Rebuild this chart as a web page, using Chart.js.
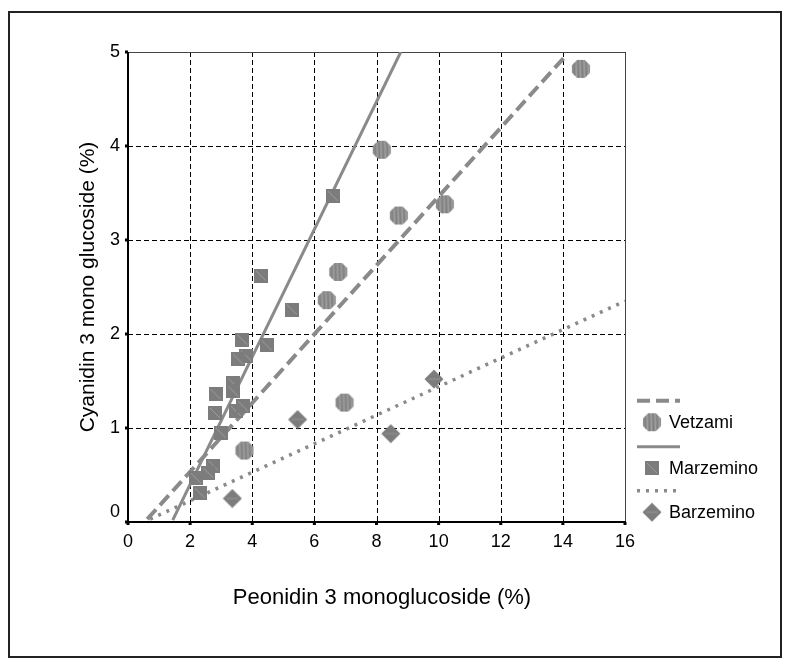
<!DOCTYPE html>
<html lang="en">
<head>
    <meta charset="UTF-8">
    <title>Cyanidin vs Peonidin</title>
    <style>
        body {
            margin: 0;
            background-color: #ffffff;
        }
        .chart-box {
            width: 789px;
            height: 665px;
        }
    </style>
    <script src="https://cdn.jsdelivr.net/npm/chart.js"></script>
</head>
<body>
    <div class="chart-box">
        <canvas id="scatterChart" width="789" height="665"></canvas>
    </div>
    <script>
        // tick labels
        const xTicks = [0, 2, 4, 6, 8, 10, 12, 14, 16];
        const yTicks = [0, 1, 2, 3, 4, 5];

        // measured points
        const vetzamiX = [14.58, 8.17, 8.72, 10.2, 6.77, 6.40, 6.97, 3.75];
        const vetzamiY = [4.82, 3.96, 3.26, 3.38, 2.66, 2.36, 1.27, 0.76];

        const marzeminoX = [6.59, 4.28, 5.27, 3.68, 4.46, 3.80, 3.55, 3.39, 3.39, 2.82, 2.80, 3.47, 3.71, 2.98, 2.75, 2.59, 2.19, 2.32];
        const marzeminoY = [3.47, 2.62, 2.26, 1.94, 1.88, 1.77, 1.73, 1.475, 1.39, 1.36, 1.16, 1.18, 1.23, 0.95, 0.60, 0.52, 0.465, 0.305];

        const barzeminoX = [3.36, 5.46, 9.85, 8.46];
        const barzeminoY = [0.25, 1.09, 1.52, 0.94];

        // fitted lines (end points)
        const vetzamiFitX = [0.62, 14.12];
        const vetzamiFitY = [0.03, 4.97];
        const marzeminoFitX = [1.44, 8.78];
        const marzeminoFitY = [0.02, 5.0];
        const barzeminoFitX = [0.71, 16];
        const barzeminoFitY = [0.03, 2.35];

        const seriesNames = ['Vetzami', 'Marzemino', 'Barzemino'];

        const lineGray = '#8a8a8a';
        const fitStyles = [
            { width: 4, dash: [13, 6] },
            { width: 3, dash: [] },
            { width: 3.5, dash: [3, 6] }
        ];

        function pairUp(xs, ys) {
            return xs.map((x, i) => ({ x: x, y: ys[i] }));
        }

        // marker images
        function octagonMarker() {
            const c = document.createElement('canvas');
            c.width = 20; c.height = 20;
            const g = c.getContext('2d');
            const r = 9.8, cx = 10, cy = 10;
            g.beginPath();
            for (let i = 0; i < 8; i++) {
                const a = Math.PI / 8 + i * Math.PI / 4;
                const px = cx + r * Math.cos(a), py = cy + r * Math.sin(a);
                if (i === 0) g.moveTo(px, py); else g.lineTo(px, py);
            }
            g.closePath();
            g.fillStyle = '#8f8f8f';
            g.fill();
            g.save();
            g.clip();
            for (let x = 3; x < 18; x += 2) {
                g.strokeStyle = (x % 4 === 1) ? '#a4a4a4' : '#7a7a7a';
                g.lineWidth = 0.8;
                g.beginPath();
                g.moveTo(x, 1);
                g.lineTo(x + 0.6, 19);
                g.stroke();
            }
            g.restore();
            return c;
        }

        function squareMarker() {
            const c = document.createElement('canvas');
            c.width = 14; c.height = 14;
            const g = c.getContext('2d');
            g.fillStyle = '#7c7c7c';
            g.fillRect(0, 0, 14, 14);
            g.strokeStyle = '#a8a8a8';
            g.lineWidth = 0.8;
            g.beginPath();
            g.moveTo(2, 2);
            g.lineTo(12, 12);
            g.stroke();
            return c;
        }

        function diamondMarker() {
            const c = document.createElement('canvas');
            c.width = 20; c.height = 20;
            const g = c.getContext('2d');
            g.beginPath();
            g.moveTo(10, 0.5);
            g.lineTo(19.5, 10);
            g.lineTo(10, 19.5);
            g.lineTo(0.5, 10);
            g.closePath();
            g.fillStyle = '#7c7c7c';
            g.fill();
            g.strokeStyle = '#a0a0a0';
            g.lineWidth = 0.8;
            g.beginPath();
            g.moveTo(4, 10);
            g.lineTo(16, 10);
            g.stroke();
            return c;
        }

        const markers = [octagonMarker(), squareMarker(), diamondMarker()];

        const frameParts = {
            id: 'frameParts',
            beforeDatasetsDraw(chart) {
                const ctx = chart.ctx;
                const xs = chart.scales.x, ys = chart.scales.y;
                const a = chart.chartArea;
                ctx.save();
                ctx.strokeStyle = '#000';
                ctx.lineWidth = 1;
                ctx.setLineDash([5, 3]);
                xTicks.forEach(v => {
                    if (v === 0) return;
                    const px = Math.round(xs.getPixelForValue(v)) + 0.5;
                    ctx.beginPath();
                    ctx.moveTo(px, a.top);
                    ctx.lineTo(px, a.bottom);
                    ctx.stroke();
                });
                yTicks.forEach(v => {
                    if (v === 0) return;
                    const py = Math.round(ys.getPixelForValue(v)) + 0.5;
                    ctx.beginPath();
                    ctx.moveTo(a.left, py);
                    ctx.lineTo(a.right, py);
                    ctx.stroke();
                });
                ctx.setLineDash([]);
                // top and right edges
                ctx.strokeStyle = '#444';
                ctx.beginPath();
                ctx.moveTo(a.left, a.top + 0.5);
                ctx.lineTo(a.right + 0.5, a.top + 0.5);
                ctx.lineTo(a.right + 0.5, a.bottom);
                ctx.stroke();
                // axes
                ctx.strokeStyle = '#000';
                ctx.lineWidth = 2;
                ctx.beginPath();
                ctx.moveTo(a.left, a.top);
                ctx.lineTo(a.left, a.bottom);
                ctx.lineTo(a.right + 1, a.bottom);
                ctx.stroke();
                // tick squares
                ctx.fillStyle = '#000';
                xTicks.forEach(v => {
                    const px = xs.getPixelForValue(v);
                    ctx.fillRect(px - 1.5, a.bottom, 3, 3);
                });
                yTicks.forEach(v => {
                    const py = ys.getPixelForValue(v);
                    ctx.fillRect(a.left - 3, py - 1.5, 3, 3);
                });
                ctx.restore();
            },
            afterDraw(chart) {
                const ctx = chart.ctx;
                const xs = chart.scales.x, ys = chart.scales.y;
                const a = chart.chartArea;
                ctx.save();
                ctx.fillStyle = '#000';
                ctx.font = '18px "Liberation Sans", Arial, sans-serif';
                ctx.textAlign = 'center';
                ctx.textBaseline = 'middle';
                xTicks.forEach(v => {
                    ctx.fillText(String(v), xs.getPixelForValue(v), a.bottom + 20);
                });
                ctx.textAlign = 'right';
                yTicks.forEach(v => {
                    let py = ys.getPixelForValue(v);
                    if (v === 0) py -= 10;
                    ctx.fillText(String(v), a.left - 8, py);
                });

                // axis titles
                ctx.font = '22px "Liberation Sans", Arial, sans-serif';
                ctx.textAlign = 'center';
                ctx.fillText('Peonidin 3 monoglucoside (%)', 382, 598);
                ctx.font = '21px "Liberation Sans", Arial, sans-serif';
                ctx.save();
                ctx.translate(88, (a.top + a.bottom) / 2);
                ctx.rotate(-Math.PI / 2);
                ctx.fillText('Cyanidin 3 mono glucoside (%)', 0, 0);
                ctx.restore();

                // legend
                const rows = [400.7, 446.7, 490.7];
                ctx.font = '18px "Liberation Sans", Arial, sans-serif';
                ctx.textAlign = 'left';
                seriesNames.forEach((name, i) => {
                    const ly = rows[i];
                    ctx.strokeStyle = lineGray;
                    ctx.lineWidth = fitStyles[i].width;
                    ctx.setLineDash(fitStyles[i].dash);
                    ctx.beginPath();
                    ctx.moveTo(637, ly);
                    ctx.lineTo(680, ly);
                    ctx.stroke();
                    ctx.setLineDash([]);
                    const m = markers[i];
                    ctx.drawImage(m, 652 - m.width / 2, ly + 21.5 - m.height / 2);
                    ctx.fillStyle = '#000';
                    ctx.fillText(name, 669, ly + 22);
                });

                // outer frame
                ctx.strokeStyle = '#222';
                ctx.lineWidth = 2;
                ctx.strokeRect(9, 12, 772, 645);
                ctx.restore();
            }
        };

        const fitX = [vetzamiFitX, marzeminoFitX, barzeminoFitX];
        const fitY = [vetzamiFitY, marzeminoFitY, barzeminoFitY];
        const ptX = [vetzamiX, marzeminoX, barzeminoX];
        const ptY = [vetzamiY, marzeminoY, barzeminoY];

        const datasets = [];
        seriesNames.forEach((name, i) => {
            datasets.push({
                label: name + ' fit',
                data: pairUp(fitX[i], fitY[i]),
                showLine: true,
                borderColor: lineGray,
                borderWidth: fitStyles[i].width,
                borderDash: fitStyles[i].dash,
                pointRadius: 0,
                order: 2
            });
        });
        seriesNames.forEach((name, i) => {
            datasets.push({
                label: name,
                data: pairUp(ptX[i], ptY[i]),
                pointStyle: markers[i],
                pointRadius: 8,
                order: 1
            });
        });

        new Chart(document.getElementById('scatterChart').getContext('2d'), {
            type: 'scatter',
            data: { datasets: datasets },
            options: {
                responsive: false,
                animation: false,
                layout: { padding: { left: 128, top: 52, right: 164, bottom: 143 } },
                plugins: {
                    legend: { display: false },
                    tooltip: { enabled: false }
                },
                scales: {
                    x: { type: 'linear', min: 0, max: 16, display: false },
                    y: { type: 'linear', min: 0, max: 5, display: false }
                }
            },
            plugins: [frameParts]
        });
    </script>
</body>
</html>
